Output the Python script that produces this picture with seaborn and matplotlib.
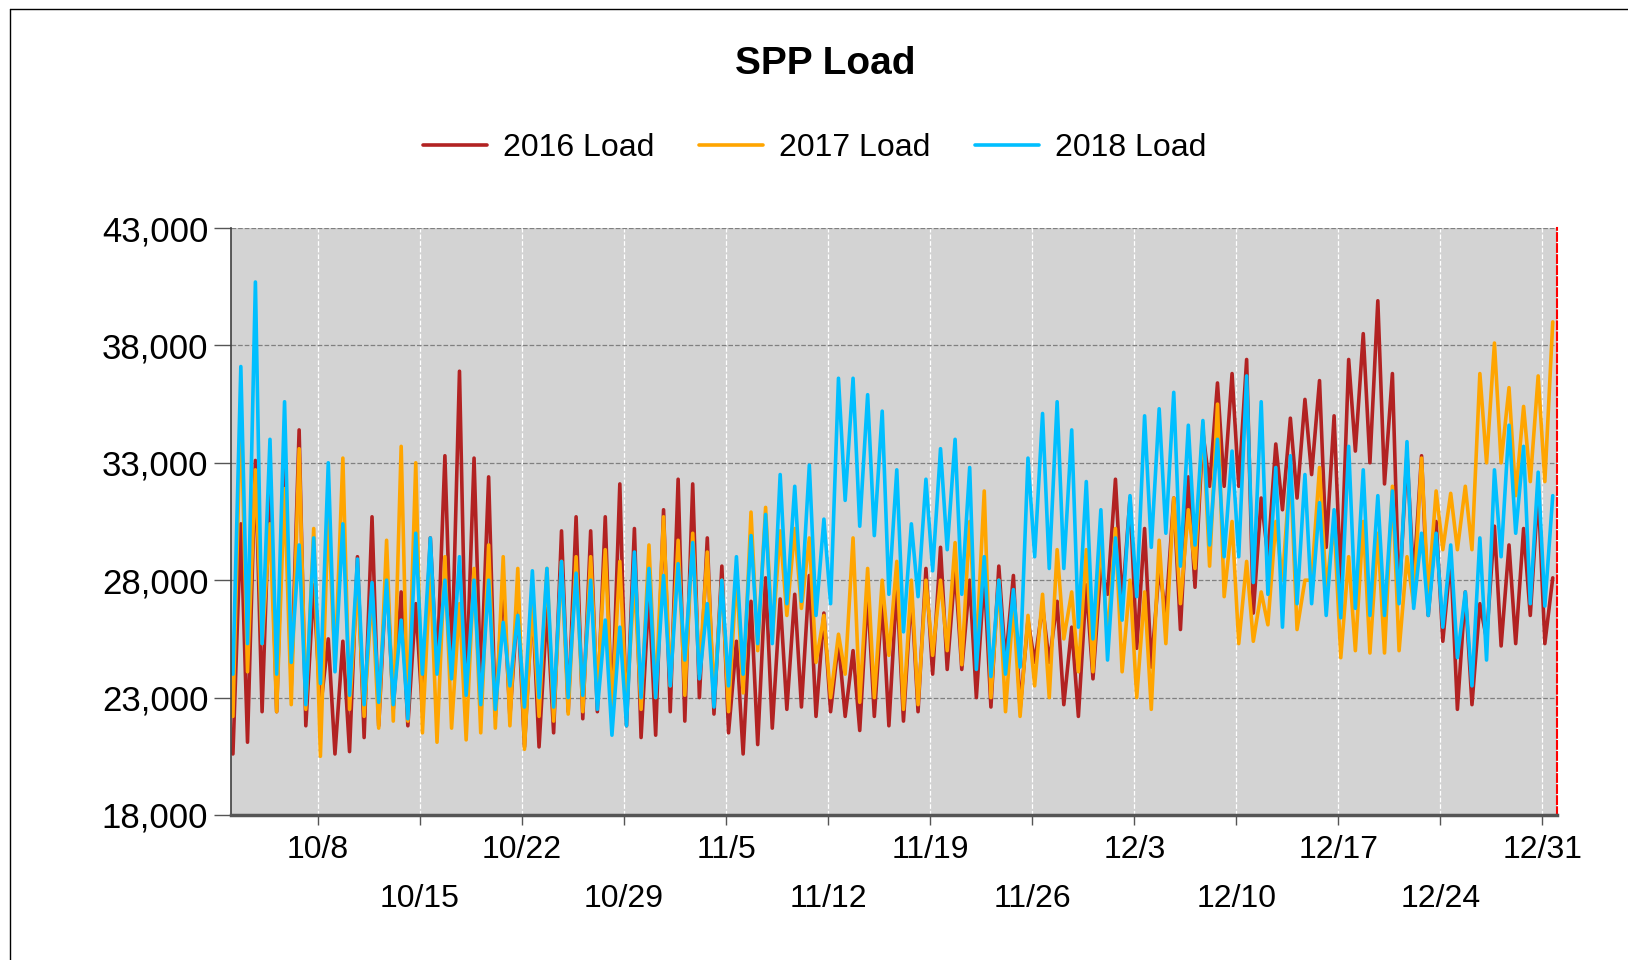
import pandas as pd
import numpy as np
import matplotlib
matplotlib.use('Agg')
import matplotlib.pyplot as plt
import matplotlib.dates as mdates
from matplotlib.ticker import FixedLocator, FixedFormatter, FuncFormatter
from matplotlib.lines import Line2D
import seaborn as sns

# ── Data: daily overnight low / evening high ──────────────────────────────
START = '2018-10-02'
N_DAYS = 91

RED_LOW = [20600, 21100, 22400, 22400, 23500, 21800, 22500, 20600, 20700, 21300,
           21800, 22500, 21800, 22400, 24100, 24100, 23300, 23500, 22200, 22200,
           20900, 20900, 21500, 22400, 22100, 22400, 22100, 21800, 21300, 21400,
           22400, 22000, 23000, 22300, 21500, 20600, 21000, 21700, 22500, 22600,
           22200, 22400, 22200, 21600, 22200, 21800, 22000, 22400, 24000, 24200,
           24200, 23000, 22600, 24500, 22500, 24500, 24500, 22700, 22200, 23800,
           27400, 27000, 25100, 24300, 26600, 25900, 27700, 32000, 32000, 32000,
           26600, 29000, 31000, 31500, 32500, 29400, 27900, 33500, 33000, 32100,
           27200, 28000, 26500, 25400, 22500, 22700, 25500, 25200, 25300, 26500, 25300]
RED_HIGH = [30400, 33100, 32300, 34000, 34400, 27800, 25500, 25400, 29000, 30700,
            28500, 27500, 27000, 29800, 33300, 36900, 33200, 32400, 27900, 27000,
            27100, 26800, 30100, 30700, 30100, 30700, 32100, 30200, 27500, 31000,
            32300, 32100, 29800, 28600, 25400, 27100, 28100, 27200, 27400, 28200,
            26600, 25400, 25000, 27500, 27200, 27800, 27500, 28500, 29400, 28500,
            28000, 28200, 28600, 28200, 26300, 26900, 27100, 26000, 27800, 28500,
            32300, 31500, 30200, 28500, 31500, 32400, 34300, 36400, 36800, 37400,
            31500, 33800, 34900, 35700, 36500, 35000, 37400, 38500, 39900, 36800,
            33400, 33300, 30500, 29000, 27500, 27000, 30300, 29500, 30200, 31800, 28100]

ORANGE_LOW = [22200, 24100, 25300, 22400, 22700, 22500, 20500, 24200, 22500, 22200,
              21700, 22000, 22000, 21500, 21100, 21700, 21200, 21500, 21700, 21800,
              20800, 22200, 22000, 22300, 22400, 23100, 22500, 22600, 22500, 23000,
              23500, 23100, 24000, 23000, 22400, 23200, 25000, 25500, 26500, 26800,
              24500, 23000, 24000, 22800, 23000, 24800, 22500, 22700, 24800, 25000,
              24400, 25000, 23000, 22400, 22200, 23500, 23000, 25500, 24100, 24100,
              25500, 24100, 23000, 22500, 25300, 27000, 28500, 28600, 27300, 25300,
              25400, 26100, 28000, 25900, 28000, 27600, 24700, 25000, 24900, 24900,
              25000, 27000, 27400, 29300, 29300, 29300, 33000, 33000, 31600, 32200, 32200]
ORANGE_HIGH = [35400, 32700, 30400, 31900, 33600, 30200, 30900, 33200, 28000, 27500,
               29700, 33700, 33000, 28500, 29000, 27000, 28500, 29500, 29000, 28500,
               27000, 28500, 28800, 29000, 29000, 29300, 28800, 28000, 29500, 30700,
               29700, 30000, 29200, 28000, 28300, 30900, 31100, 30100, 30200, 29800,
               26500, 25700, 29800, 28500, 28000, 28800, 28000, 28000, 28000, 29600,
               30500, 31800, 28000, 27000, 26500, 27400, 29300, 27500, 29300, 29800,
               30200, 28000, 27500, 29700, 31500, 31000, 34700, 35500, 30500, 28800,
               27500, 30500, 32800, 28000, 32800, 30500, 29000, 30500, 30000, 32000,
               29000, 33200, 31800, 31700, 32000, 36800, 38100, 36200, 35400, 36700, 39000]

BLUE_LOW = [24000, 25300, 25300, 24000, 24500, 22700, 23600, 24100, 23100, 22700,
            22800, 22700, 22100, 24000, 24000, 23800, 23100, 22700, 22500, 23500,
            22600, 23000, 22600, 23000, 23100, 22500, 21400, 21800, 23000, 23000,
            23500, 24600, 23800, 22600, 23500, 24000, 25300, 25300, 27000, 27100,
            26500, 27000, 31400, 30300, 29900, 27400, 25800, 27300, 28400, 29300,
            27400, 24200, 23900, 24000, 24300, 29000, 28500, 28500, 26000, 25500,
            24600, 26300, 27300, 29400, 30000, 28600, 29500, 29500, 29000, 29000,
            27900, 27400, 26000, 27000, 27000, 26500, 26400, 26800, 26500, 26500,
            27000, 26800, 26500, 26000, 24700, 23500, 24600, 29000, 30000, 27000, 26900]
BLUE_HIGH = [37100, 40700, 34000, 35600, 29500, 29800, 33000, 30400, 28900, 27900,
             28000, 26300, 30000, 29800, 28000, 29000, 28000, 28000, 26200, 26500,
             28400, 28500, 28800, 28300, 28000, 26300, 26000, 29200, 28500, 28200,
             28700, 29600, 27000, 28000, 29000, 29900, 30800, 32500, 32000, 32900,
             30600, 36600, 36600, 35900, 35200, 32700, 30400, 32300, 33600, 34000,
             32800, 29000, 28000, 27600, 33200, 35100, 35600, 34400, 32200, 31000,
             29800, 31600, 35000, 35300, 36000, 34600, 34800, 34000, 33500, 36700,
             35600, 32800, 33300, 32500, 31300, 31000, 33700, 32700, 31600, 31800,
             33900, 30000, 30000, 29500, 27500, 29800, 32700, 34600, 33700, 32600, 31600]

SERIES = ['2016 Load', '2017 Load', '2018 Load']
COLORS = ['#B22222', '#FFA500', '#00BFFF']
Y_TICKS = [18000, 23000, 28000, 33000, 38000, 43000]

# ── Long table: low at 04:00, high at 17:00 each day ───────────────────────
days = pd.date_range(START, periods=N_DAYS, freq='D')
rows = []
for name, low, high in zip(SERIES,
                           [RED_LOW, ORANGE_LOW, BLUE_LOW],
                           [RED_HIGH, ORANGE_HIGH, BLUE_HIGH]):
    for day, lo, hi in zip(days, low, high):
        rows.append((day + pd.Timedelta(hours=4), lo, name))
        rows.append((day + pd.Timedelta(hours=17), hi, name))
df = pd.DataFrame(rows, columns=['time', 'load', 'series'])

# ── Plot ───────────────────────────────────────────────────────────────────
sns.set_style('white')
plt.rcParams['font.family'] = ['Liberation Sans', 'DejaVu Sans']
plt.rcParams['text.color'] = 'black'
plt.rcParams['xtick.labelcolor'] = 'black'
plt.rcParams['ytick.labelcolor'] = 'black'

fig = plt.figure(figsize=(16.28, 9.6), dpi=100)
ax = fig.add_axes([230.5 / 1628, 1 - 815 / 960, (1557 - 230.5) / 1628, (815 - 228) / 960])
ax.set_facecolor('#D3D3D3')

sns.lineplot(data=df, x='time', y='load', hue='series', hue_order=SERIES,
             palette=COLORS, lw=2.6, estimator=None, errorbar=None, ax=ax)

ax.set_xlim(pd.Timestamp('2018-10-02'), pd.Timestamp('2019-01-01'))
ax.set_ylim(18000, 43000)
ax.set_yticks(Y_TICKS)
ax.yaxis.set_major_formatter(FuncFormatter(lambda v, p: f'{v:,.0f}'))

major = pd.date_range('2018-10-08', periods=7, freq='14D')
minor = pd.date_range('2018-10-15', periods=6, freq='14D')
ax.xaxis.set_major_locator(FixedLocator(mdates.date2num(major)))
ax.xaxis.set_major_formatter(FixedFormatter([f'{d.month}/{d.day}' for d in major]))
ax.xaxis.set_minor_locator(FixedLocator(mdates.date2num(minor)))
ax.xaxis.set_minor_formatter(FixedFormatter([f'{d.month}/{d.day}' for d in minor]))

ax.set_xlabel('')
ax.set_ylabel('')

ax.grid(axis='x', which='both', color='white', ls='--', lw=0.9)
ax.grid(axis='y', which='major', color='#808080', ls='--', lw=0.9)
ax.set_axisbelow(True)

ax.tick_params(axis='x', which='both', direction='out', length=7, width=1,
               color='#555555', labelsize=23, labelcolor='black', bottom=True)
ax.tick_params(axis='x', which='major', pad=7.5)
ax.tick_params(axis='x', which='minor', pad=42.5)
ax.tick_params(axis='y', direction='out', length=12, width=1, color='#555555',
               labelsize=25, labelcolor='black', pad=4, left=True)

ax.spines['top'].set_visible(False)
ax.spines['left'].set_color('#404040')
ax.spines['left'].set_linewidth(1.2)
ax.spines['bottom'].set_color('#555555')
ax.spines['bottom'].set_linewidth(2.5)
ax.spines['right'].set_color('red')
ax.spines['right'].set_linestyle('--')
ax.spines['right'].set_linewidth(1.5)

handles, labels = ax.get_legend_handles_labels()
ax.get_legend().remove()
fig.legend(handles, labels, loc='center', bbox_to_anchor=(815 / 1628, 1 - 148 / 960),
           ncol=3, frameon=False, fontsize=23, handlelength=2.0,
           handletextpad=0.5, columnspacing=1.4, labelcolor='black')

fig.text(825 / 1628, 1 - 64 / 960, 'SPP Load', ha='center', va='center',
         fontsize=28, fontweight='bold', color='black')

# thin outer frame (left and top edges)
fig.add_artist(Line2D([10 / 1628, 10 / 1628], [0, 1 - 9 / 960],
                      transform=fig.transFigure, color='black', lw=1))
fig.add_artist(Line2D([10 / 1628, 1], [1 - 9 / 960, 1 - 9 / 960],
                      transform=fig.transFigure, color='black', lw=1))

fig.savefig('out.png', dpi=100)
